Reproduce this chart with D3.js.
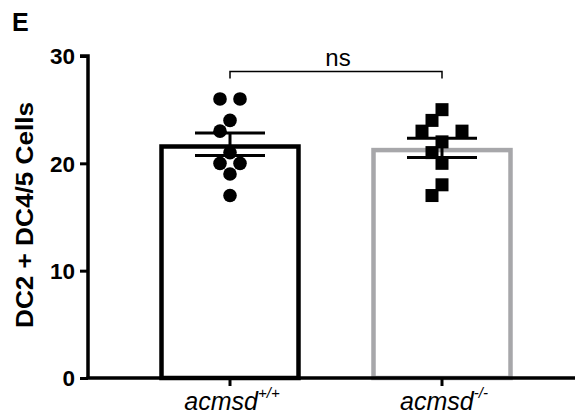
<!DOCTYPE html>
<html>
<head>
<meta charset="utf-8">
<script src="https://cdn.jsdelivr.net/npm/d3@7"></script>
<style>
  html, body { margin: 0; padding: 0; background: #fff; }
  svg text { font-family: "Liberation Sans", Arial, sans-serif; }
</style>
</head>
<body>
<div class="chart"></div>
<script>
// Data
const groups = ["acmsd+/+", "acmsd-/-"];
const groupBase = ["acmsd", "acmsd"];
const groupSup = ["+/+", "-/-"];
const wildType = [26, 26, 24, 23, 21, 20, 20, 19, 17];
const knockOut = [25, 24, 23, 23, 22, 21, 20, 18, 17];
const yTicks = [0, 10, 20, 30];
const series = [wildType, knockOut];

// Svg sizing
const W = 575, H = 416;
const margin = { left: 88, top: 56, bottom: 38 };
const plotBottom = H - margin.bottom;

const svg = d3.select(".chart")
  .append("svg")
  .attr("width", W)
  .attr("height", H);

// Scales
const y = d3.scaleLinear().domain([0, 30]).range([plotBottom, margin.top]);
const x = d3.scaleBand().domain(groups).range([124, 548]).padding(0);
const cx = g => x(g) + x.bandwidth() / 2;
const barW = 137;
const barStroke = 4.5;

// Stats
const mean = a => d3.mean(a);
const sem = a => d3.deviation(a) / Math.sqrt(a.length);

// Bars (stroke kept inside the top edge)
const barColors = ["#000", "#a7a7aa"];
svg.selectAll("rect.bar")
  .data(groups)
  .enter()
  .append("rect")
    .attr("class", "bar")
    .attr("x", g => cx(g) - barW / 2)
    .attr("y", (g, i) => y(mean(series[i])) + barStroke / 2)
    .attr("width", barW)
    .attr("height", (g, i) => plotBottom - y(mean(series[i])) - barStroke / 2)
    .attr("fill", "none")
    .attr("stroke", (g, i) => barColors[i])
    .attr("stroke-width", barStroke);

// Error bars (mean +/- SEM)
const capW = 70;
groups.forEach((g, i) => {
  const m = mean(series[i]), s = sem(series[i]);
  const eg = svg.append("g").attr("stroke", "#000").attr("stroke-width", 3);
  eg.append("line").attr("x1", cx(g)).attr("x2", cx(g)).attr("y1", y(m + s)).attr("y2", y(m - s));
  eg.append("line").attr("x1", cx(g) - capW / 2).attr("x2", cx(g) + capW / 2).attr("y1", y(m + s)).attr("y2", y(m + s));
  eg.append("line").attr("x1", cx(g) - capW / 2).attr("x2", cx(g) + capW / 2).attr("y1", y(m - s)).attr("y2", y(m - s));
});

// Scatter placement: equal values spread symmetrically, others dodge greedily
const minDist = 13;
function spread(values, center) {
  const placed = [];
  const distinct = Array.from(new Set(values)).sort((a, b) => b - a);
  const single = [0, -10, 10, -20, 20, -30, 30];
  const paired = [[-10, 10], [-20, 20], [-30, 30]];
  const tripled = [[-20, 0, 20], [-30, -10, 10]];
  distinct.forEach(v => {
    const k = values.filter(d => d === v).length;
    const py = y(v);
    const patterns = k === 1 ? single.map(c => [c]) : k === 2 ? paired : tripled;
    for (const pat of patterns) {
      const ok = pat.every(c => placed.every(p => Math.hypot(p.x - (center + c), p.y - py) >= minDist));
      if (ok) { pat.forEach(c => placed.push({ x: center + c, y: py })); break; }
    }
  });
  return placed;
}

svg.selectAll("circle.pt")
  .data(spread(wildType, cx(groups[0])))
  .enter()
  .append("circle")
    .attr("cx", d => d.x)
    .attr("cy", d => d.y)
    .attr("r", 6.8)
    .attr("fill", "#000");

svg.selectAll("rect.pt")
  .data(spread(knockOut, cx(groups[1])))
  .enter()
  .append("rect")
    .attr("x", d => d.x - 6.5)
    .attr("y", d => d.y - 6.5)
    .attr("width", 13)
    .attr("height", 13)
    .attr("fill", "#000");

// Axes
const yAxis = d3.axisLeft(y).tickValues(yTicks).tickSize(8).tickPadding(5);
const gy = svg.append("g")
  .attr("transform", `translate(${margin.left},0)`)
  .call(yAxis);
gy.select(".domain").attr("stroke-width", 3.5).attr("d", `M-8,${margin.top}H0V${plotBottom}`);
gy.selectAll(".tick line").attr("stroke-width", 3);
gy.selectAll(".tick text")
  .attr("font-size", 22.5)
  .attr("font-weight", "bold")
  .attr("fill", "#000")
  .attr("dy", "0.35em")
  .style("font-family", "Liberation Sans, Arial, sans-serif");

const xAxis = d3.axisBottom(x).tickSize(8).tickFormat("");
const gx = svg.append("g")
  .attr("transform", `translate(0,${plotBottom})`)
  .call(xAxis);
gx.select(".domain").remove();
gx.selectAll(".tick line").attr("stroke-width", 3);
svg.append("line")
  .attr("x1", margin.left - 1.5).attr("x2", W)
  .attr("y1", plotBottom).attr("y2", plotBottom)
  .attr("stroke", "#000").attr("stroke-width", 3.5);

// X labels with superscripts
groups.forEach((g, i) => {
  const t = svg.append("text")
    .attr("x", cx(g) + 2)
    .attr("y", plotBottom + 32)
    .attr("text-anchor", "middle")
    .attr("font-size", 25)
    .attr("font-style", "italic");
  t.append("tspan").text(groupBase[i]);
  t.append("tspan").attr("dy", -12).attr("font-size", 15).text(groupSup[i]);
});

// Y axis title
svg.append("text")
  .attr("transform", `translate(33,215) rotate(-90)`)
  .attr("text-anchor", "middle")
  .attr("font-size", 23)
  .attr("font-weight", "bold")
  .attr("textLength", 226)
  .attr("lengthAdjust", "spacingAndGlyphs")
  .text("DC2 + DC4/5 Cells");

// Panel letter
svg.append("text")
  .attr("x", 12)
  .attr("y", 31)
  .attr("font-size", 25)
  .attr("font-weight", "bold")
  .text("E");

// Significance bracket
const by = 71.5;
svg.append("path")
  .attr("d", `M${cx(groups[0])},${by + 7}V${by}H${cx(groups[1])}V${by + 7}`)
  .attr("fill", "none")
  .attr("stroke", "#000")
  .attr("stroke-width", 1.5);
svg.append("text")
  .attr("x", (cx(groups[0]) + cx(groups[1])) / 2 + 2)
  .attr("y", 66)
  .attr("text-anchor", "middle")
  .attr("font-size", 24)
  .text("ns");
</script>
</body>
</html>
